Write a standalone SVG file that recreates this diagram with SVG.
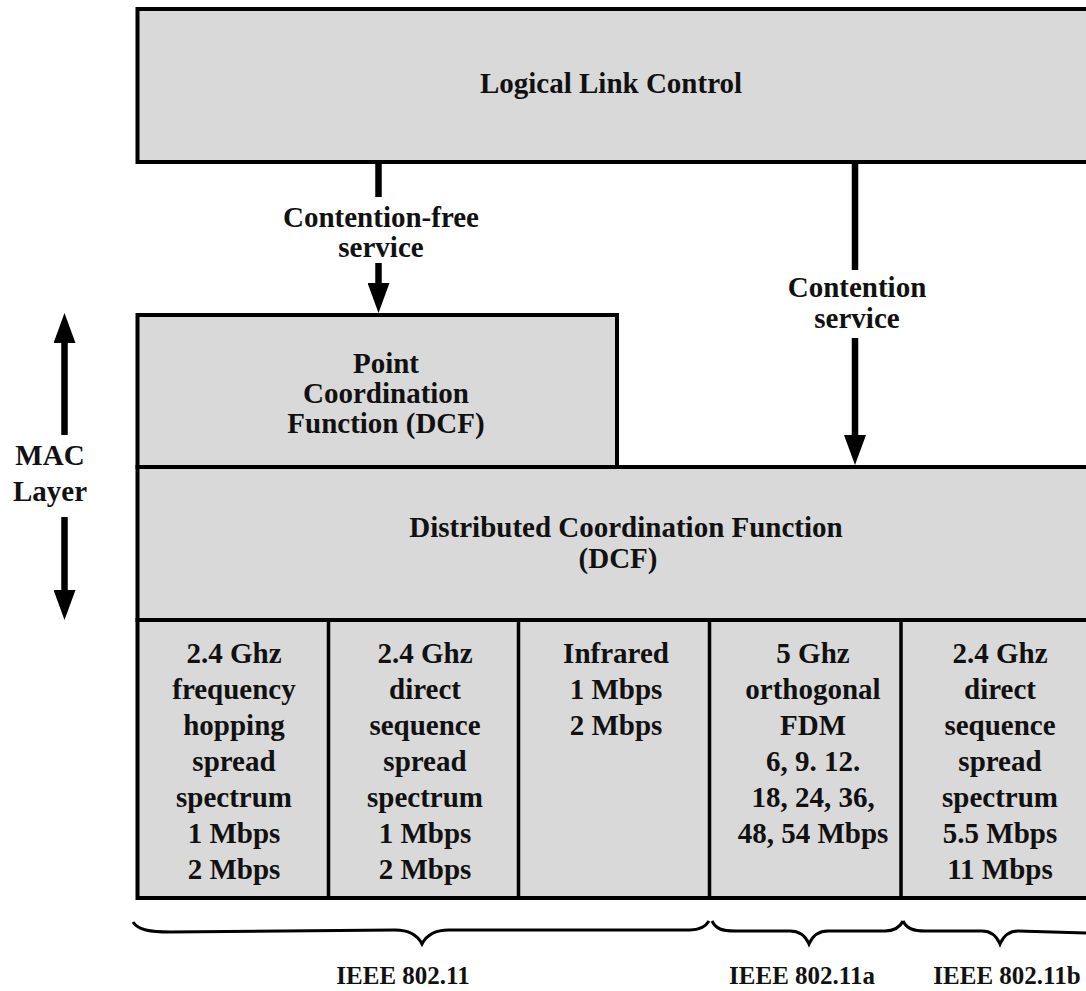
<svg xmlns="http://www.w3.org/2000/svg" width="1086" height="991" viewBox="0 0 1086 991">
<style>
.box{fill:#d9d9d9;stroke:#000;stroke-width:4}
.div{stroke:#000;stroke-width:3.5}
.t{font-family:'Liberation Serif','DejaVu Serif',serif;font-weight:700;font-size:29px;fill:#111;text-anchor:middle}
.s{font-size:25px}
.c{stroke:#000;stroke-width:6.5;fill:none}
.b{stroke:#000;stroke-width:3;fill:none}
</style>
<defs>
<marker id="ah" viewBox="0 0 30 22" markerWidth="30" markerHeight="22" markerUnits="userSpaceOnUse" refX="1" refY="11" orient="auto">
<path d="M0,0 L30,11 L0,22 z" fill="#000"/>
</marker>
</defs>
<rect width="1086" height="991" fill="#fff"/>

<g id="llc">
<rect class="box" x="137.5" y="9" width="970" height="153"/>
<text class="t" x="611" y="93">Logical Link Control</text>
</g>

<g id="pcf">
<rect class="box" x="137.5" y="315" width="479.5" height="152"/>
<text class="t" x="386" y="373">Point</text>
<text class="t" x="386" y="403">Coordination</text>
<text class="t" x="386" y="433">Function (DCF)</text>
</g>

<g id="dcf">
<rect class="box" x="137.5" y="467" width="970" height="153"/>
<text class="t" x="626" y="537">Distributed Coordination Function</text>
<text class="t" x="618" y="568">(DCF)</text>
</g>

<g id="phy">
<rect class="box" x="137.5" y="620" width="970" height="278"/>
<line class="div" x1="328.5" y1="620" x2="328.5" y2="898"/>
<line class="div" x1="518.5" y1="620" x2="518.5" y2="898"/>
<line class="div" x1="709.5" y1="620" x2="709.5" y2="898"/>
<line class="div" x1="901" y1="620" x2="901" y2="898"/>
</g>

<g id="fhss">
<text class="t" x="234" y="663">2.4 Ghz</text>
<text class="t" x="234" y="699">frequency</text>
<text class="t" x="234" y="735">hopping</text>
<text class="t" x="234" y="771">spread</text>
<text class="t" x="234" y="807">spectrum</text>
<text class="t" x="234" y="843">1 Mbps</text>
<text class="t" x="234" y="879">2 Mbps</text>
</g>

<g id="dsss">
<text class="t" x="425" y="663">2.4 Ghz</text>
<text class="t" x="425" y="699">direct</text>
<text class="t" x="425" y="735">sequence</text>
<text class="t" x="425" y="771">spread</text>
<text class="t" x="425" y="807">spectrum</text>
<text class="t" x="425" y="843">1 Mbps</text>
<text class="t" x="425" y="879">2 Mbps</text>
</g>

<g id="ir">
<text class="t" x="616" y="663">Infrared</text>
<text class="t" x="616" y="699">1 Mbps</text>
<text class="t" x="616" y="735">2 Mbps</text>
</g>

<g id="ofdm">
<text class="t" x="813" y="663">5 Ghz</text>
<text class="t" x="813" y="699">orthogonal</text>
<text class="t" x="813" y="735">FDM</text>
<text class="t" x="813" y="771">6, 9. 12.</text>
<text class="t" x="813" y="807">18, 24, 36,</text>
<text class="t" x="813" y="843">48, 54 Mbps</text>
</g>

<g id="dsss-b">
<text class="t" x="1000" y="663">2.4 Ghz</text>
<text class="t" x="1000" y="699">direct</text>
<text class="t" x="1000" y="735">sequence</text>
<text class="t" x="1000" y="771">spread</text>
<text class="t" x="1000" y="807">spectrum</text>
<text class="t" x="1000" y="843">5.5 Mbps</text>
<text class="t" x="1000" y="879">11 Mbps</text>
</g>

<g id="mac">
<text class="t" x="50" y="465">MAC</text>
<text class="t" x="50" y="501">Layer</text>
</g>

<g id="connectors">
<line class="c" x1="378.5" y1="162" x2="378.5" y2="197"/>
<line class="c" x1="378.5" y1="263" x2="378.5" y2="284" marker-end="url(#ah)"/>
<text class="t" x="381" y="227">Contention-free</text>
<text class="t" x="381" y="257">service</text>
<line class="c" x1="855" y1="162" x2="855" y2="270"/>
<line class="c" x1="855" y1="338" x2="855" y2="436" marker-end="url(#ah)"/>
<text class="t" x="857" y="297">Contention</text>
<text class="t" x="857" y="328">service</text>
<line class="c" x1="64.5" y1="435" x2="64.5" y2="342" marker-end="url(#ah)"/>
<line class="c" x1="64.5" y1="517" x2="64.5" y2="591" marker-end="url(#ah)"/>
</g>

<g id="braces">
<path class="b" d="M133,922 C138,930 150,932 170,932 L395,930 C410,930 418,936 422,944 C426,936 434,930 449,930 L690,930 C700,930 706,926 709,921"/>
<path class="b" d="M712,921 C716,929 722,931 735,931 L790,931 C800,931 806,937 809,944 C812,937 818,931 828,931 L885,931 C895,931 900,927 903,921"/>
<path class="b" d="M903,921 C907,929 914,931 925,931 L982,931 C992,931 997,937 1000,944 C1003,937 1008,931 1018,931 L1090,933"/>
<text class="t s" x="403" y="984">IEEE 802.11</text>
<text class="t s" x="802" y="984">IEEE 802.11a</text>
<text class="t s" x="1007" y="984">IEEE 802.11b</text>
</g>
</svg>
